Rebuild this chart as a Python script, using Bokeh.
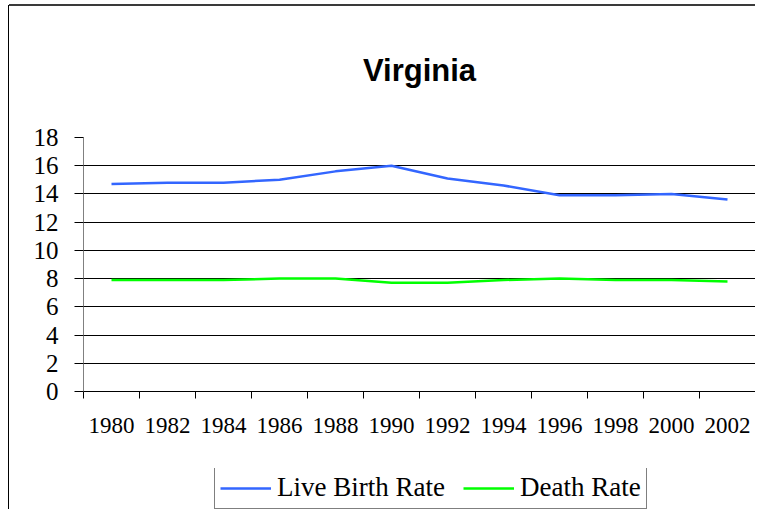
import numpy as np
from bokeh.plotting import figure
from bokeh.layouts import column
from bokeh.models import (Range1d, FixedTicker, Legend, LegendItem, Title,
                          ColumnDataSource)
from bokeh.embed import file_html
from bokeh.resources import INLINE

years = ["1980", "1982", "1984", "1986", "1988", "1990",
         "1992", "1994", "1996", "1998", "2000", "2002"]
birth_rate = [14.7, 14.8, 14.8, 15.0, 15.6, 16.0, 15.1, 14.6, 13.9, 13.9, 14.0, 13.6]
death_rate = [7.9, 7.9, 7.9, 8.0, 8.0, 7.7, 7.7, 7.9, 8.0, 7.9, 7.9, 7.8]
y_ticks = [0, 2, 4, 6, 8, 10, 12, 14, 16, 18]

SERIF = "Times New Roman"
BLUE = "#3366ff"
GREEN = "#00ff00"

n = len(years)
xc = (np.arange(n) + 0.5).tolist()
src = ColumnDataSource(dict(x=xc, birth=birth_rate, death=death_rate))

p = figure(width=755, height=468, output_backend="svg", toolbar_location=None,
           x_range=Range1d(0, n), y_range=Range1d(0, 18),
           min_border_left=83, min_border_right=0, min_border_top=128,
           min_border_bottom=77)
p.border_fill_color = None
p.background_fill_color = "white"
p.outline_line_color = None

p.title = None
t = Title(text="Virginia", text_font="Liberation Sans", text_font_size="31px",
          text_font_style="bold", align="center", text_color="#000000",
          text_line_height=0.6)
t.standoff = 100
p.add_layout(t, "above")

# grid
p.xgrid.grid_line_color = None
p.ygrid.ticker = FixedTicker(ticks=y_ticks[1:-1])
p.ygrid.grid_line_color = "#000000"
p.ygrid.grid_line_width = 1

# y axis
p.yaxis.ticker = FixedTicker(ticks=y_ticks)
p.yaxis.axis_line_color = "#808080"
p.yaxis.major_tick_line_color = "#000000"
p.yaxis.major_tick_out = 9
p.yaxis.major_tick_in = 0
p.yaxis.minor_tick_line_color = None
p.yaxis.major_label_text_font = SERIF
p.yaxis.major_label_text_font_size = "25px"
p.yaxis.major_label_text_color = "#000000"
p.yaxis.major_label_standoff = 16

# x axis: labels at category centres, tick marks at category boundaries
p.xaxis.ticker = FixedTicker(ticks=xc, minor_ticks=list(range(n + 1)))
p.xaxis.major_label_overrides = {x: y for x, y in zip(xc, years)}
p.xaxis.axis_line_color = "#000000"
p.xaxis.major_tick_line_color = None
p.xaxis.minor_tick_line_color = "#000000"
p.xaxis.minor_tick_out = 7
p.xaxis.minor_tick_in = 0
p.xaxis.major_tick_out = 7
p.xaxis.major_label_text_font = SERIF
p.xaxis.major_label_text_font_size = "23px"
p.xaxis.major_label_text_color = "#000000"
p.xaxis.major_label_standoff = 19

p.line("x", "birth", source=src, line_color=BLUE, line_width=2.5)
p.line("x", "death", source=src, line_color=GREEN, line_width=2.5)

# legend strip below the chart (its lines lie outside its own visible range)
lg = figure(width=755, height=41, output_backend="svg", toolbar_location=None,
            x_range=Range1d(0, 1), y_range=Range1d(0, 1),
            x_axis_location=None, y_axis_location=None, min_border=0)
lg.grid.grid_line_color = None
lg.outline_line_color = None
lg.background_fill_color = None
lg.border_fill_color = None
l1 = lg.line("x", "birth", source=src, line_color=BLUE, line_width=2.5)
l2 = lg.line("x", "death", source=src, line_color=GREEN, line_width=2.5)
legend = Legend(items=[LegendItem(label="Live Birth Rate", renderers=[l1]),
                       LegendItem(label="Death Rate", renderers=[l2])],
                orientation="horizontal", location=(131, 0),
                label_text_font=SERIF, label_text_font_size="27px",
                label_text_color="#000000",
                border_line_color="#000000", border_line_width=1,
                glyph_width=51, label_standoff=6, spacing=18, padding=5,
                margin=0, background_fill_alpha=1)
lg.add_layout(legend, "center")

layout = column(p, lg, spacing=0)
layout.styles = {"background": "linear-gradient(#3a3a3a,#3a3a3a) 9px 4px/calc(100% - 9px) 2px no-repeat, "
                               "linear-gradient(#000,#000) 8px 5px/1px 100% no-repeat, white"}

open("out.html", "w").write(file_html(layout, INLINE))
